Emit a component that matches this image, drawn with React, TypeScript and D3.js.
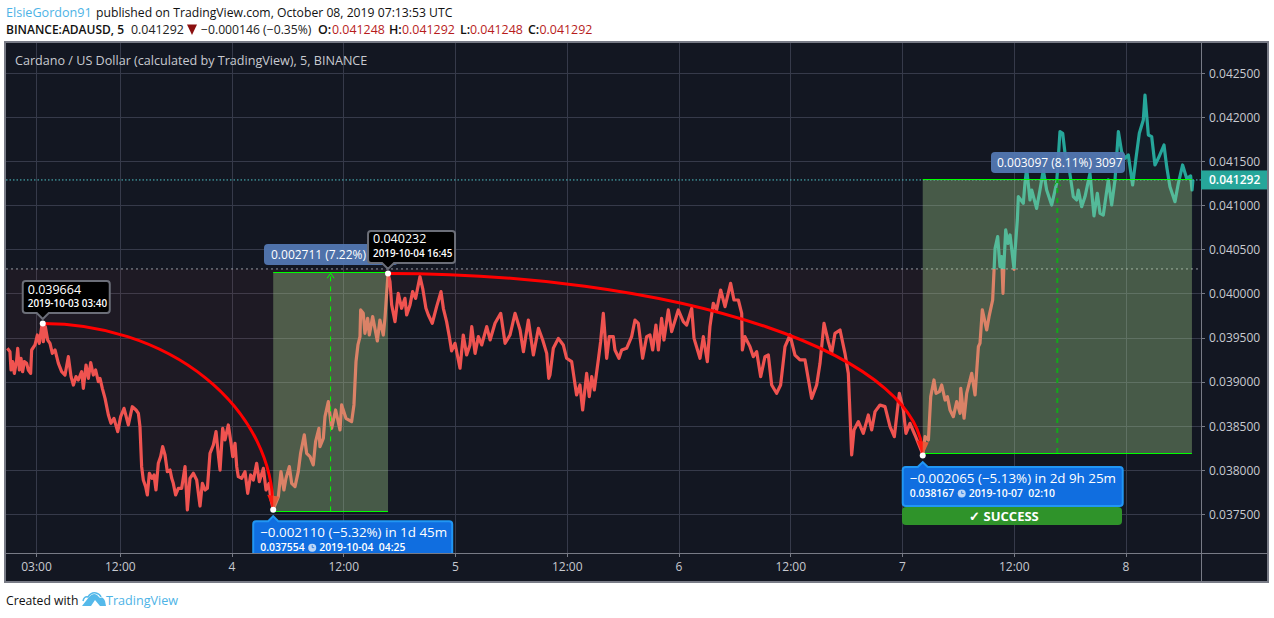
import React from "react";
import * as d3 from "d3";

// Close price trace: hours since 2019-10-03 00:00 UTC, price in millionths of USD.
const hours = [
  -0.13,0.15,0.26,0.44,0.62,0.87,0.98,1.16,1.34,1.51,1.69,1.94,2.12,2.37,2.48,2.84,3.09,3.30,3.56,3.67,3.73,3.95,4.20,4.45,4.70,4.99,5.35,5.70,6.06,6.42,6.71,6.96,7.24,7.49,7.85,8.03,8.32,8.57,8.82,9.10,9.35,9.64,9.82,10.07,10.36,10.72,11.00,11.32,11.72,12.04,12.40,12.86,13.29,13.69,13.94,14.11,14.29,14.47,14.72,14.90,15.12,15.40,15.62,15.83,16.08,16.33,16.55,16.80,17.05,17.34,17.52,17.69,17.94,18.23,18.59,18.95,19.20,19.48,19.84,20.20,20.56,20.81,21.10,21.35,21.63,21.99,22.28,22.53,22.71,22.99,23.24,23.60,23.89,24.07,24.32,24.50,24.67,25.03,25.39,25.68,26.00,26.29,26.64,26.93,27.36,27.65,27.97,28.15,28.42,
  28.97,29.25,29.57,29.79,30.15,30.40,30.76,31.11,31.36,31.76,32.01,32.37,32.72,32.97,33.33,33.44,33.80,33.98,34.34,34.69,35.12,35.59,35.77,36.23,36.84,37.09,37.31,37.52,37.74,37.81,38.09,38.27,38.56,38.74,39.10,39.60,39.88,40.24,40.42,40.75,40.96,41.14,41.50,41.85,42.21,42.57,42.75,43.11,43.39,43.71,44.18,44.47,44.82,45.08,45.50,45.97,46.44,46.69,47.04,47.33,47.58,47.94,48.48,48.83,49.19,49.55,49.74,50.10,50.45,50.81,51.35,51.71,52.24,52.85,53.32,53.85,54.39,54.93,55.29,55.82,56.36,56.90,57.36,57.79,58.01,
  58.14,58.50,59.04,59.57,59.93,60.47,61.00,61.36,61.65,62.08,62.36,62.62,62.90,63.33,63.58,63.87,64.23,64.51,64.94,65.12,65.55,65.84,66.37,66.91,67.27,67.63,68.09,68.52,68.88,69.17,69.52,69.78,70.13,70.38,70.85,71.21,71.92,72.46,72.82,73.36,73.61,74.25,74.61,75.04,75.32,75.68,76.04,76.47,76.94,77.54,77.90,78.37,78.73,78.80,79.08,79.62,79.98,80.34,80.77,81.23,81.59,81.95,82.48,82.91,83.38,83.92,84.45,84.99,85.53,86.24,86.78,87.14,87.57,88.03,88.39,88.75,89.29,89.82,90.18,90.54,90.79,91.26,91.79,92.33,92.69,93.05,93.58,94.12,94.66,95.12,95.66,96.09,96.37,96.80,97.34,98.06,98.17,
  98.42,98.78,99.03,99.38,99.60,99.96,100.21,100.57,100.82,101.10,101.46,101.82,102.18,102.25,102.61,102.89,103.43,103.79,104.15,104.32,104.57,105.04,105.29,105.68,105.94,106.22,106.47,106.65,106.79,106.90,107.08,107.33,107.55,107.98,108.08,108.33,
  108.44,108.97,109.15,109.33,109.69,109.87,110.40,110.76,111.12,111.48,112.02,112.55,112.91,113.20,113.45,113.81,114.34,114.70,114.88,115.24,115.60,116.13,116.56,116.92,117.21,117.56,118.10,118.46,118.82,119.18,119.53,119.89,120.25,120.71,121.07,121.43,121.86,122.04,122.40,122.76,123.11,123.47,124.08,124.37,124.72,125.26,125.62,126.08,126.51,126.94,127.09,127.19,
];
const prices = [
  39383,39345,39137,39232,39099,39250,39383,39137,39269,39118,39232,39213,39137,39099,39364,39421,39534,39439,39628,39664,39458,39628,39477,39439,39326,39364,39213,39118,39080,39288,39062,38967,39062,39024,39118,38929,39194,39043,39220,39080,39137,39005,39043,38929,38816,38627,38533,38589,38438,38608,38703,38514,38721,38684,38646,38495,38041,37890,37815,37720,37966,37909,37947,37777,38079,38155,38268,38173,37984,38003,37909,37852,37720,37796,37796,38041,37550,37909,37966,37890,37595,37852,37777,37796,38192,38287,38438,38173,38003,38476,38344,38514,38306,38155,38306,38041,37928,37909,37984,37739,37947,37890,38079,37871,38022,37777,37852,37682,37554,
  37702,37985,37777,37909,38042,37853,37815,37985,38193,38401,38193,38155,38061,38325,38476,38268,38363,38609,38779,38476,38684,38457,38741,38590,38552,38741,39232,39421,39516,39818,39780,39553,39723,39534,39742,39466,39704,39534,39723,40232,40139,39875,39686,40007,39837,39950,39761,39875,40026,39950,40196,40063,39837,39761,39667,39856,40026,39837,39686,39516,39353,39440,39157,39534,39308,39421,39629,39326,39515,39421,39629,39478,39667,39780,39440,39534,39780,39591,39345,39704,39308,39610,39478,39326,39043,
  39081,39383,39496,39421,39270,39232,38854,38967,38684,39099,38835,39062,38911,39251,39458,39780,39270,39515,39515,39364,39270,39364,39383,39515,39704,39666,39270,39515,39534,39364,39647,39364,39723,39477,39818,39572,39818,39685,39647,39836,39496,39270,39515,39232,39629,39893,39818,40044,39855,40120,39931,39931,39780,39364,39515,39402,39288,39345,39062,39288,39307,38967,38873,38967,39402,39534,39307,39251,39251,38816,38967,39213,39666,39458,39326,39553,39591,39326,39099,38174,38457,38552,38419,38627,38457,38665,38740,38722,38495,38381,38873,38684,38419,38533,38400,38211,38167,
  38382,38344,38835,39024,38873,38892,38967,38797,38835,38684,38608,38778,38646,38930,38590,38873,39100,38854,39402,39440,39818,39591,39742,39931,40517,40649,40309,40422,40007,40347,40725,40573,40668,40279,40479,40838,
  41103,41027,41254,41424,41065,41178,40970,41178,41405,41178,41008,41254,41840,41821,41594,41481,41103,41065,41178,40989,41103,41367,40884,41141,40914,40895,41292,41008,41292,41840,41613,41537,41575,41235,41537,41821,41972,42255,41802,41783,41462,41537,41688,41443,41216,41046,41254,41462,41311,41337,41178,41292,
];

const priceTicks = [37500, 38000, 38500, 39000, 39500, 40000, 40500, 41000, 41500, 42000, 42500];
const timeTickHours = [3, 12, 24, 36, 48, 60, 72, 84, 96, 108, 120];
const timeTickLabels = ["03:00", "12:00", "4", "12:00", "5", "12:00", "6", "12:00", "7", "12:00", "8"];

const baselinePrice = 40283;
const lastPrice = 41292;

// Pivots: swing high → swing low
const arcStartHours = [3.67, 40.75];
const arcStartPrices = [39664, 40232];
const arcEndHours = [28.42, 98.17];
const arcEndPrices = [37554, 38167];

// Measured moves
const moveStartHours = [28.42, 98.17];
const moveEndHours = [40.75, 127.08];
const moveLow = [37534, 38195];
const moveHigh = [40245, 41292];
const moveLabels = ["0.002711 (7.22%) 2711", "0.003097 (8.11%) 3097"];

const tooltipPrices = ["0.039664", "0.040232"];
const tooltipDates = ["2019-10-03 03:40", "2019-10-04 16:45"];
const calloutMain = ["−0.002110 (−5.32%) in 1d 45m", "−0.002065 (−5.13%) in 2d 9h 25m"];
const calloutPrice = ["0.037554", "0.038167"];
const calloutDate = ["2019-10-04  04:25", "2019-10-07  02:10"];

const FONT = "'Open Sans', 'Noto Sans', sans-serif";
const L = 6, T = 43, R = 1267, B = 581, PR = 1201, PB = 553;
const RED = "#ef5350", TEAL = "#26a69a";

const x = d3.scaleLinear().domain([0, 120]).range([8.57, 1126]);
const y = d3.scaleLinear().domain([37500, 42500]).range([514.4, 73.4]);
const fmt = (v: number) => (v / 1e6).toFixed(6);

const points = hours.map((h, i) => [h, prices[i]] as [number, number]);
const linePath = d3.line<[number, number]>().x(d => x(d[0])).y(d => y(d[1]))(points) as string;
const areaPath = d3.area<[number, number]>().x(d => x(d[0])).y0(y(baselinePrice)).y1(d => y(d[1]))(points) as string;

function arcPath(i: number) {
  const x0 = x(arcStartHours[i]), y0 = y(arcStartPrices[i]);
  const x1 = x(arcEndHours[i]), y1 = y(arcEndPrices[i]);
  return `M${x0},${y0}A${x1 - x0},${y1 - y0} 0 0 1 ${x1},${y1}`;
}

function Tooltip({ i }: { i: number }) {
  const px = x(arcStartHours[i]), py = y(arcStartPrices[i]);
  const left = px - 20, top = py - 42.5;
  return (
    <g>
      <path
        d={`M${left + 3},${top}H${left + 84}q3,0 3,3V${top + 29}q0,3 -3,3H${px + 6}L${px},${top + 38}L${px - 6},${top + 32}H${left + 3}q-3,0 -3,-3V${top + 3}q0,-3 3,-3Z`}
        fill="#000"
        stroke="#6b6e78"
        strokeWidth={2}
      />
      <text x={left + 5} y={top + 12.5} fontSize={12.5} fill="#fff" fontFamily={FONT}>{tooltipPrices[i]}</text>
      <text x={left + 5} y={top + 26} fontSize={9.9} fontWeight={600} fill="#fff" fontFamily={FONT}>{tooltipDates[i]}</text>
    </g>
  );
}

function Callout({ i, w, h }: { i: number; w: number; h: number }) {
  const px = x(arcEndHours[i]), py = y(arcEndPrices[i]);
  const left = px - 20, top = py + 11.5;
  const clockX = left + 59;
  return (
    <g>
      <path
        d={`M${left + 3},${top}H${px - 5}L${px},${top - 5}L${px + 5},${top}H${left + w - 3}q3,0 3,3V${top + h - 3}q0,3 -3,3H${left + 3}q-3,0 -3,-3V${top + 3}q0,-3 3,-3Z`}
        fill="#106ee0"
        stroke="#2196f3"
        strokeWidth={2}
      />
      <text x={left + 7} y={top + 16} fontSize={13.4} fontWeight={500} fill="#fff" fontFamily={FONT}>{calloutMain[i]}</text>
      <text x={left + 7} y={top + 30} fontSize={10.4} fontWeight={600} fill="#fff" fontFamily={FONT}>{calloutPrice[i]}</text>
      <circle cx={clockX} cy={top + 26.5} r={4} fill="#bcd6f6" />
      <path d={`M${clockX},${top + 24}V${top + 26.5}H${clockX + 2}`} fill="none" stroke="#106ee0" strokeWidth={0.8} />
      <text x={left + 66} y={top + 30} fontSize={10.4} fontWeight={600} fill="#fff" fontFamily={FONT} style={{ whiteSpace: "pre" }}>{calloutDate[i]}</text>
    </g>
  );
}

function Move({ i, dashColor, dashWidth }: { i: number; dashColor: string; dashWidth: number }) {
  const x0 = x(moveStartHours[i]), x1 = x(moveEndHours[i]);
  const yTop = y(moveHigh[i]), yBot = y(moveLow[i]);
  const xm = (x0 + x1) / 2;
  const snap = (v: number) => Math.floor(v) + 0.5;
  return (
    <g>
      <rect x={x0} y={yTop} width={x1 - x0} height={yBot - yTop} fill="rgb(179,229,151)" fillOpacity={0.33} />
      <line x1={x0} x2={x1} y1={snap(yTop)} y2={snap(yTop)} stroke="#00ff00" strokeWidth={1.2} />
      <line x1={x0} x2={x1} y1={snap(yBot)} y2={snap(yBot)} stroke="#00ff00" strokeWidth={1.2} />
      <line x1={xm} x2={xm} y1={yBot} y2={yTop} stroke={dashColor} strokeWidth={dashWidth} strokeDasharray="5 5" />
      <path d={`M${xm - 3.5},${yTop + 6}L${xm},${yTop + 1}L${xm + 3.5},${yTop + 6}`} fill="none" stroke={dashColor} strokeWidth={1} />
    </g>
  );
}

export default function App() {
  const by = y(baselinePrice);
  const ly = y(lastPrice);
  return (
    <svg
      width={1274}
      height={618}
      viewBox="0 0 1274 618"
      style={{ position: "absolute", left: 0, top: 0, display: "block", background: "#fff" }}
    >
      <defs>
        <clipPath id="plot"><rect x={L} y={T} width={PR - L} height={PB - T} /></clipPath>
        <clipPath id="above"><rect x={L} y={T} width={PR - L} height={by - T} /></clipPath>
        <clipPath id="below"><rect x={L} y={by} width={PR - L} height={PB - by} /></clipPath>
      </defs>

      {/* Header */}
      <text x={6} y={17} fontSize={12.6} fontFamily={FONT} fill="#4db3e6">ElsieGordon91</text>
      <text x={96} y={17} fontSize={12.2} fontFamily={FONT} fill="#111">published on TradingView.com, October 08, 2019 07:13:53 UTC</text>
      <text y={34} fontSize={12.4} fontFamily={FONT} fill="#111">
        <tspan x={6} fontWeight={600} fontSize={12}>BINANCE:ADAUSD, 5</tspan>
        <tspan x={131} fill="#222">0.041292</tspan>
        <tspan x={201} fill="#222" fontSize={12.2}>−0.000146 (−0.35%)</tspan>
        <tspan x={318} fontWeight={600}>O:</tspan>
        <tspan x={332} fill="#b71c1c">0.041248</tspan>
        <tspan x={389} fontWeight={600}>H:</tspan>
        <tspan x={402} fill="#b71c1c">0.041292</tspan>
        <tspan x={460} fontWeight={600}>L:</tspan>
        <tspan x={470} fill="#b71c1c">0.041248</tspan>
        <tspan x={528} fontWeight={600}>C:</tspan>
        <tspan x={539.5} fill="#b71c1c">0.041292</tspan>
      </text>
      <path d="M187,24.5H197L192,35Z" fill="#8b1010" />

      {/* Chart frame */}
      <rect x={L - 1} y={T - 1} width={R - L + 2} height={B - T + 2} fill="#131722" stroke="#787b86" strokeWidth={2} />

      {/* Grid */}
      <g stroke="#363a4a" strokeWidth={1} shapeRendering="crispEdges">
        {priceTicks.map(p => <line key={p} x1={L} x2={PR} y1={y(p)} y2={y(p)} />)}
        {timeTickHours.map(h => <line key={h} x1={x(h)} x2={x(h)} y1={T} y2={PB} />)}
      </g>

      {/* Baseline series */}
      <g clipPath="url(#plot)">
        <g clipPath="url(#below)">
          <path d={areaPath} fill={RED} fillOpacity={0.055} />
          <path d={linePath} fill="none" stroke={RED} strokeWidth={3.2} strokeLinejoin="round" />
        </g>
        <g clipPath="url(#above)">
          <path d={areaPath} fill={TEAL} fillOpacity={0.05} />
          <path d={linePath} fill="none" stroke={TEAL} strokeWidth={3.2} strokeLinejoin="round" />
        </g>
      </g>

      {/* Baseline and last price lines */}
      <line x1={L} x2={PR} y1={by} y2={by} stroke="#b8bcc6" strokeOpacity={0.8} strokeWidth={1} strokeDasharray="2 3" />
      <line x1={L} x2={PR} y1={ly} y2={ly} stroke="#4fc3c7" strokeWidth={1} strokeDasharray="1.5 2" />

      {/* Curved pivots */}
      <g fill="none" stroke="#ff0000" strokeWidth={3}>
        <path d={arcPath(0)} />
        <path d={arcPath(1)} />
      </g>
      {[0, 1].map(i => {
        const ex = x(arcEndHours[i]), ey = y(arcEndPrices[i]);
        return <path key={i} d={`M${ex},${ey}L${ex - 6},${ey - 15}L${ex + 6},${ey - 13}Z`} fill="#ff1a10" />;
      })}

      {/* Measured moves */}
      <Move i={0} dashColor="#00ff00" dashWidth={1} />
      <Move i={1} dashColor="#12a81a" dashWidth={2} />

      {/* Pivot dots */}
      {[0, 1].map(i => (
        <g key={i} fill="#fff">
          <circle cx={x(arcStartHours[i])} cy={y(arcStartPrices[i])} r={3} />
          <circle cx={x(arcEndHours[i])} cy={y(arcEndPrices[i])} r={3} />
        </g>
      ))}

      {/* Move labels */}
      <rect x={264} y={244} width={134} height={21} rx={4} fill="#5277b2" fillOpacity={0.95} />
      <text x={271} y={258.5} fontSize={12} fontWeight={500} fill="#fff" fontFamily={FONT}>{moveLabels[0]}</text>
      <rect x={991} y={152} width={134} height={21} rx={4} fill="#5277b2" fillOpacity={0.95} />
      <text x={997} y={166.7} fontSize={12} fontWeight={500} fill="#fff" fontFamily={FONT}>{moveLabels[1]}</text>

      {/* Tooltips and callouts */}
      <Tooltip i={0} />
      <Tooltip i={1} />
      <g clipPath="url(#plot)"><Callout i={0} w={199} h={40} /></g>
      <Callout i={1} w={220} h={39} />
      <rect x={902} y={507} width={220} height={18} rx={4} fill="#2f932a" />
      <text x={1004} y={521} fontSize={13} fontWeight={700} fill="#fff" fontFamily={FONT} textAnchor="middle">✓ SUCCESS</text>

      {/* Axis separators and ticks */}
      <g stroke="#787b86" strokeWidth={1} shapeRendering="crispEdges">
        <line x1={PR} x2={PR} y1={T} y2={B} />
        <line x1={L} x2={R} y1={PB} y2={PB} />
        {priceTicks.map(p => <line key={p} x1={PR} x2={PR + 4} y1={y(p)} y2={y(p)} />)}
        {timeTickHours.map(h => <line key={h} x1={x(h)} x2={x(h)} y1={PB} y2={PB + 4} />)}
      </g>

      {/* Axis labels */}
      <g fontSize={12} fontWeight={500} fill="#c8cad0" fontFamily={FONT}>
        {priceTicks.map(p => <text key={p} x={1209} y={y(p) + 4.3}>{fmt(p)}</text>)}
        {timeTickHours.map((h, i) => <text key={h} x={x(h)} y={571} textAnchor="middle">{timeTickLabels[i]}</text>)}
      </g>

      {/* Last price tag */}
      <rect x={PR} y={ly - 9.5} width={R - PR} height={19} fill={TEAL} />
      <text x={1209} y={ly + 4.3} fontSize={12} fontWeight={600} fill="#fff" fontFamily={FONT}>{fmt(lastPrice)}</text>

      <text x={15} y={65} fontSize={12.6} fontWeight={500} fill="#c8cad0" fontFamily={FONT}>Cardano / US Dollar (calculated by TradingView), 5, BINANCE</text>

      {/* Footer */}
      <text x={6} y={605} fontSize={12.2} fill="#111" fontFamily={FONT}>Created with</text>
      <path d="M82,606L89,597Q93,592 97,595L100,598Q103,596 105,601L106,606L100,606L95,600L91,606Z" fill="#55b9ea" />
      <path d="M83,601Q84,596 88,597Q91,592 96,593Q100,594 101,597" fill="none" stroke="#55b9ea" strokeWidth={1.5} />
      <text x={106} y={605} fontSize={12.6} fill="#4db3e6" fontFamily={FONT}>TradingView</text>
    </svg>
  );
}
